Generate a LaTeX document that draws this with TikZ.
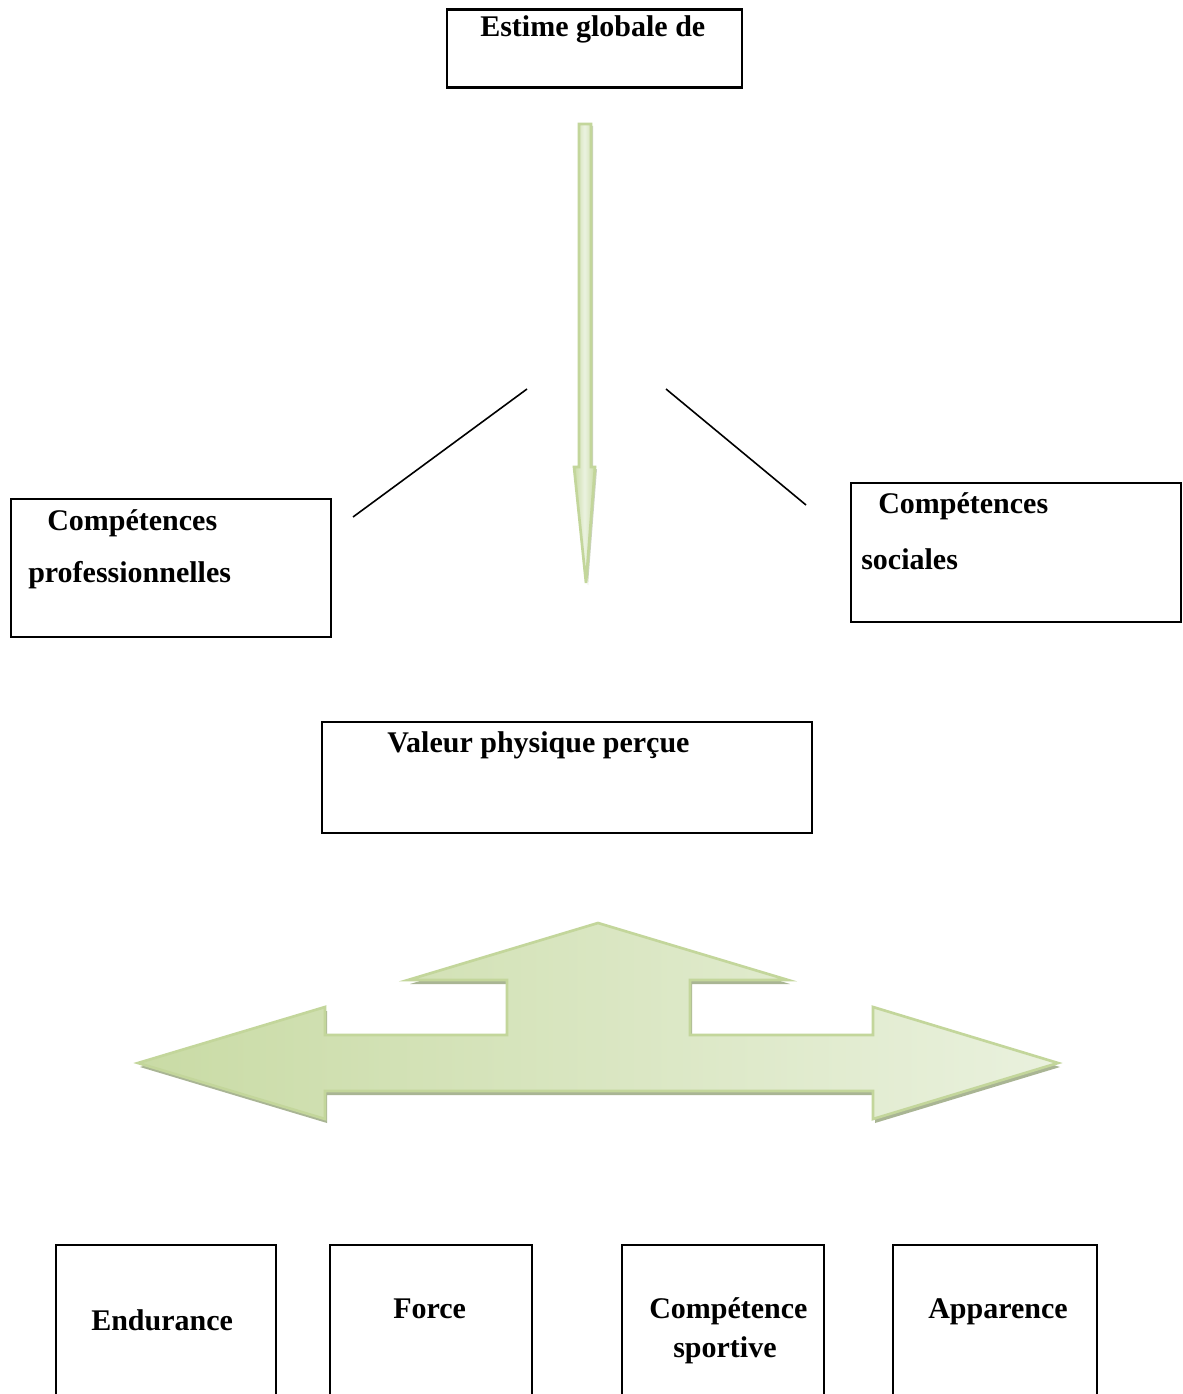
\documentclass[tikz,border=0pt]{standalone}
\usepackage{fontspec}
\setmainfont{Liberation Serif}
\definecolor{arrowEdge}{HTML}{C3D69B}
\definecolor{arrowDark}{HTML}{C9DBA5}
\definecolor{arrowLight}{HTML}{EBF2E0}
\definecolor{arrowMid}{HTML}{DCE8C8}
\definecolor{arrowShadow}{HTML}{A9B594}
\begin{document}
\begin{tikzpicture}[x=0.75pt,y=-0.75pt,
  box/.style={draw=black,line width=1.6pt,inner sep=0pt},
  lbl/.style={anchor=base west,inner sep=0pt,font=\fontsize{22.5pt}{27pt}\selectfont\bfseries},
  link/.style={draw=black,line width=1.2pt},
  greenarrow/.style={draw=arrowEdge,line width=2pt,line join=miter},
  shadowpath/.style={fill=arrowShadow}]
\useasboundingbox (0,0) rectangle (1182,1394);
\fill[white] (0,0) rectangle (1182,1394);
\begin{scope}
\clip (0,0) rectangle (1182,1394);
% boxes
\node[box,minimum width=295*0.75pt,minimum height=78*0.75pt] (top) at (594.5,48.5) {};
\node[box,minimum width=320*0.75pt,minimum height=138*0.75pt] (prof) at (171,568) {};
\node[box,minimum width=330*0.75pt,minimum height=139*0.75pt] (soc) at (1016,552.5) {};
\node[box,minimum width=490*0.75pt,minimum height=111*0.75pt] (val) at (567,777.5) {};
\node[box,minimum width=220*0.75pt,minimum height=170*0.75pt] (endu) at (166,1330) {};
\node[box,minimum width=202*0.75pt,minimum height=170*0.75pt] (force) at (431,1330) {};
\node[box,minimum width=202*0.75pt,minimum height=170*0.75pt] (sport) at (723,1330) {};
\node[box,minimum width=204*0.75pt,minimum height=170*0.75pt] (app) at (995,1330) {};
\end{scope}
% texts
\node[lbl] (tTop) at (480,37) {Estime globale de};
\node[lbl] (tProf1) at (47,530) {Compétences};
\node[lbl] (tProf2) at (28,582) {professionnelles};
\node[lbl] (tSoc1) at (878,513) {Compétences};
\node[lbl] (tSoc2) at (861,569) {sociales};
\node[lbl] (tVal) at (387,752) {Valeur physique perçue};
\node[lbl] (tEndu) at (91,1330) {Endurance};
\node[lbl] (tForce) at (393,1318) {Force};
\node[lbl] (tSport1) at (649,1318) {Compétence};
\node[lbl] (tSport2) at (673,1357) {sportive};
\node[lbl] (tApp) at (928,1318) {Apparence};
% vertical arrow
\fill[arrowShadow!60] (581,126) -- (593,126) -- (593,469) -- (597,469) -- (588,585) -- (576,469) -- (581,469) -- cycle;
\path[greenarrow,left color=arrowDark,right color=arrowDark,middle color=arrowLight]
  (579,124) -- (591,124) -- (591,467) -- (595,467) -- (586,583) -- (574,467) -- (579,467) -- cycle;
\coordinate (vtip) at (586,583);
% connector lines
\coordinate (l1a) at (353,517);
\coordinate (l1b) at (527,389);
\coordinate (l2a) at (666,389);
\coordinate (l2b) at (806,505);
\draw[link] (l1a) -- (l1b);
\draw[link] (l2a) -- (l2b);
% three-way arrow
\fill[shadowpath] (140,1067) -- (327,1011) -- (327,1039) -- (509,1039) -- (509,984) -- (410,984) -- (600,927) -- (790,984) -- (692,984) -- (692,1039) -- (875,1039) -- (875,1011) -- (1060,1067) -- (875,1123) -- (875,1095) -- (327,1095) -- (327,1123) -- cycle;
\path[greenarrow,left color=arrowDark,middle color=arrowLight,right color=arrowLight!90!arrowMid]
  (138,1063) -- (325,1007) -- (325,1035) -- (507,1035) -- (507,980) -- (408,980) -- (598,923) -- (788,980) -- (690,980) -- (690,1035) -- (873,1035) -- (873,1007) -- (1058,1063) -- (873,1119) -- (873,1091) -- (325,1091) -- (325,1119) -- cycle;
\end{tikzpicture}
\end{document}
